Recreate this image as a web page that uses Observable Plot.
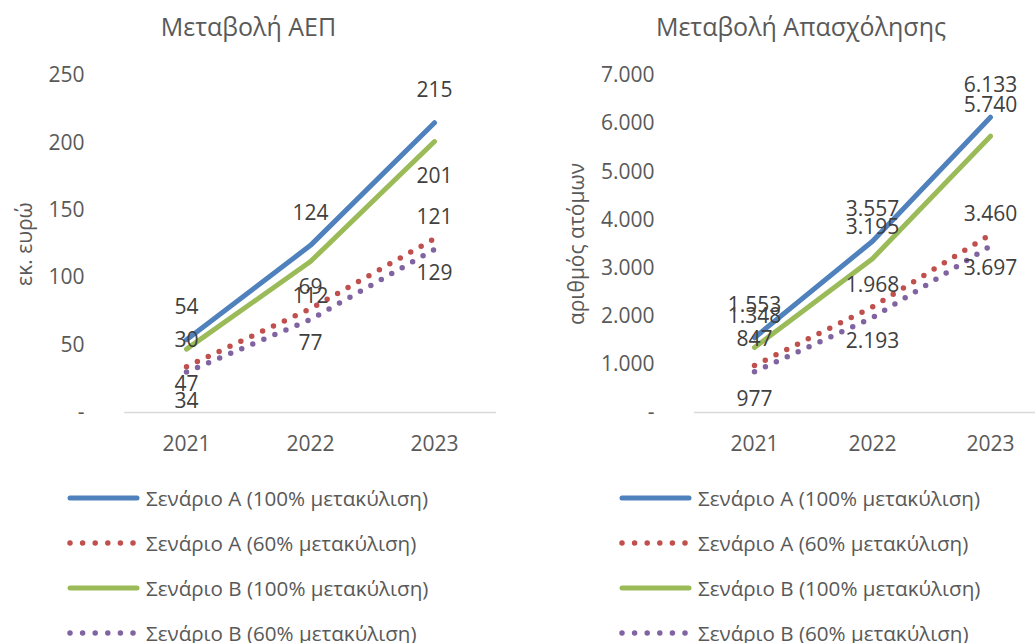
<!DOCTYPE html>
<html><head><meta charset="utf-8">
<script src="https://cdn.jsdelivr.net/npm/d3@7"></script>
<script src="https://cdn.jsdelivr.net/npm/@observablehq/plot@0.6"></script>
<style>
html,body{margin:0;padding:0;background:#fff;}
body{position:relative;width:1035px;height:643px;overflow:hidden;font-family:"Open Sans",sans-serif;color:#595959;}
.title{position:absolute;text-align:center;font-size:25px;line-height:25px;}
.panel{position:absolute;}
.panel svg{max-width:none !important;}
.legend{position:absolute;font-size:20.6px;}
.legend .row{position:absolute;left:0;height:30px;display:flex;align-items:center;white-space:nowrap;}
.legend svg{margin-right:5px;}
</style></head>
<body>
<script>
// ---- data ----
const years = ["2021", "2022", "2023"];
const seriesNames = [
  "Σενάριο Α (100% μετακύλιση)",
  "Σενάριο Α (60% μετακύλιση)",
  "Σενάριο Β (100% μετακύλιση)",
  "Σενάριο Β (60% μετακύλιση)"
];
const gdpA100 = [54, 124, 215];
const gdpA60 = [34, 77, 129];
const gdpB100 = [47, 112, 201];
const gdpB60 = [30, 69, 121];
const empA100 = [1553, 3557, 6133];
const empA60 = [977, 2193, 3697];
const empB100 = [1348, 3195, 5740];
const empB60 = [847, 1968, 3460];
const gdpTicks = [0, 50, 100, 150, 200, 250];
const empTicks = [0, 1000, 2000, 3000, 4000, 5000, 6000, 7000];
const gdpTitle = "Μεταβολή ΑΕΠ";
const empTitle = "Μεταβολή Απασχόλησης";
const gdpYLabel = "εκ. ευρώ";
const empYLabel = "αριθμός ατόμων";

// ---- styles ----
const colors = ["#4F81BD", "#C0504D", "#9BBB59", "#8064A2"];
const dotted = [false, true, false, true];
const FONT = "'Open Sans', sans-serif";

const loc = d3.formatLocale({decimal: ",", thousands: ".", grouping: [3], currency: ["", "€"]});
const fmt = loc.format(",d");

function rowsOf(seriesVals) {
  const rows = [];
  seriesVals.forEach((vals, i) => vals.forEach((v, j) => rows.push({series: seriesNames[i], idx: i, year: years[j], value: v})));
  return rows;
}

function makePanel(cfg) {
  const rows = rowsOf(cfg.values);
  const marks = [
    Plot.ruleY([0], {stroke: "#d9d9d9", strokeWidth: 1.5}),
    Plot.axisY({ticks: cfg.ticks, tickSize: 0, tickPadding: 40, tickFormat: d => d === 0 ? "-" : fmt(d), fontSize: 21, fill: "#595959", label: null}),
    Plot.axisX({tickSize: 0, tickPadding: 24, fontSize: 21, fill: "#595959", label: null}),
    Plot.text([cfg.yLabel], {frameAnchor: "left", textAnchor: "middle", lineAnchor: "middle", dx: -cfg.labelOffset, rotate: -90, fontSize: 21, fill: "#595959"})
  ];
  seriesNames.forEach((s, i) => {
    const data = rows.filter(r => r.idx === i);
    marks.push(Plot.line(data, {
      x: "year", y: "value", stroke: colors[i],
      strokeWidth: dotted[i] ? 5.5 : 5,
      strokeLinecap: "round", strokeLinejoin: "round",
      strokeDasharray: dotted[i] ? "0 12" : null
    }));
  });
  seriesNames.forEach((s, i) => {
    const data = rows.filter(r => r.idx === i);
    marks.push(Plot.text(data, {
      x: "year", y: "value", text: d => fmt(d.value), dy: cfg.labelDy[i],
      fontSize: 21, fill: "#404040"
    }));
  });
  return Plot.plot({
    width: cfg.width, height: 425,
    marginLeft: cfg.marginLeft, marginRight: cfg.marginRight, marginTop: 30, marginBottom: 58,
    style: {fontFamily: FONT, background: "transparent", overflow: "visible", color: "#595959", maxWidth: "none"},
    x: {type: "point", domain: years, padding: 0.5},
    y: {domain: [0, cfg.yMax]},
    marks
  });
}

function addTitle(text, left, width) {
  const d = document.createElement("div");
  d.className = "title";
  d.style.left = left + "px"; d.style.width = width + "px"; d.style.top = "14px";
  d.textContent = text;
  document.body.appendChild(d);
}

function addLegend(left) {
  const lg = document.createElement("div");
  lg.className = "legend";
  lg.style.left = left + "px"; lg.style.top = "483px";
  seriesNames.forEach((s, i) => {
    const row = document.createElement("div");
    row.className = "row";
    row.style.top = (i * 45) + "px";
    const ns = "http://www.w3.org/2000/svg";
    const svg = document.createElementNS(ns, "svg");
    svg.setAttribute("width", 74); svg.setAttribute("height", 10);
    const ln = document.createElementNS(ns, "line");
    ln.setAttribute("x1", 3); ln.setAttribute("x2", 70); ln.setAttribute("y1", 5); ln.setAttribute("y2", 5);
    ln.setAttribute("stroke", colors[i]);
    ln.setAttribute("stroke-linecap", "round");
    ln.setAttribute("stroke-width", dotted[i] ? 5.5 : 5);
    if (dotted[i]) { ln.setAttribute("stroke-dasharray", "0 12.6"); }
    svg.appendChild(ln);
    row.appendChild(svg);
    const t = document.createElement("span");
    t.textContent = s;
    row.appendChild(t);
    lg.appendChild(row);
  });
  document.body.appendChild(lg);
}

addTitle(gdpTitle, 0, 497);
addTitle(empTitle, 520, 562);

const p1 = makePanel({values: [gdpA100, gdpA60, gdpB100, gdpB60], ticks: gdpTicks, yMax: 250, yLabel: gdpYLabel,
  width: 520, marginLeft: 124, marginRight: 24, labelOffset: 99, labelDy: [-32, 35, 35, -32]});
const w1 = document.createElement("div"); w1.className = "panel"; w1.style.left = "0px"; w1.style.top = "45px";
w1.appendChild(p1); document.body.appendChild(w1);

const p2 = makePanel({values: [empA100, empA60, empB100, empB60], ticks: empTicks, yMax: 7000, yLabel: empYLabel,
  width: 540, marginLeft: 174, marginRight: 10, labelOffset: 117, labelDy: [-32, 34, -31, -32]});
const w2 = document.createElement("div"); w2.className = "panel"; w2.style.left = "520px"; w2.style.top = "45px";
w2.appendChild(p2); document.body.appendChild(w2);

addLegend(67);
addLegend(619);
</script>
</body></html>
